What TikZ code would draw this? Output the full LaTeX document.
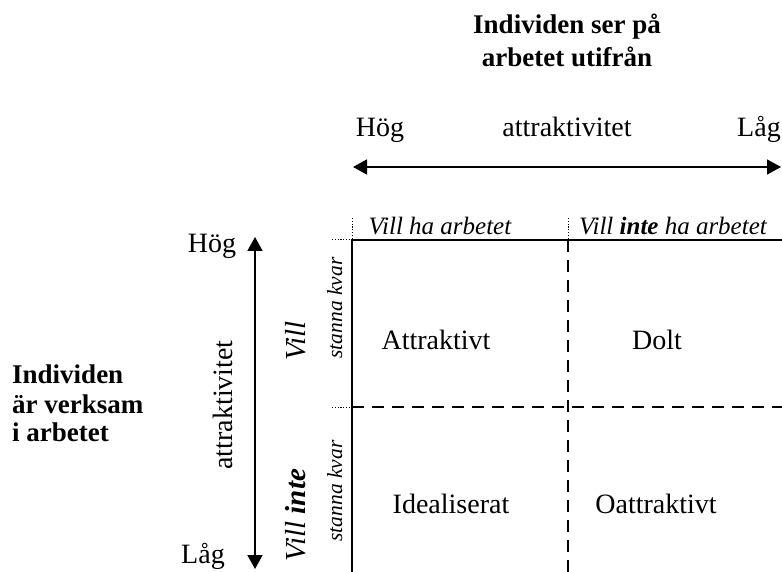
\documentclass[tikz,border=0pt]{standalone}
\usepackage{fontspec}
\setmainfont{Liberation Serif}
\usetikzlibrary{arrows.meta}
\begin{document}
\begin{tikzpicture}[x=1pt,y=-1pt,
  txt/.style={inner sep=0pt,font=\fontsize{28}{34}\selectfont},
  btxt/.style={inner sep=0pt,font=\fontsize{27}{33}\selectfont\bfseries},
  itxt/.style={inner sep=0pt,font=\fontsize{25}{30}\selectfont\itshape},
  vtxt/.style={inner sep=0pt,font=\fontsize{29}{34}\selectfont\itshape,rotate=90},
  stxt/.style={inner sep=0pt,font=\fontsize{21.5}{25}\selectfont\itshape,rotate=90},
  axis/.style={line width=1.8pt,{Triangle[length=14pt,width=15pt]}-{Triangle[length=14pt,width=15pt]}},
  solidline/.style={line width=1.8pt},
  dashline/.style={line width=1.8pt,dash pattern=on 12pt off 8pt},
  dotline/.style={line width=1pt,dash pattern=on 1.2pt off 1.6pt}
]
\useasboundingbox (0,0) rectangle (782,572);

% title
\node[btxt,anchor=base] (t1) at (567,34) {Individen ser på};
\node[btxt,anchor=base] (t2) at (567,67) {arbetet utifrån};

% horizontal axis
\node[txt,anchor=base] (hh) at (380,137) {Hög};
\node[txt,anchor=base] (ha) at (567,137) {attraktivitet};
\node[txt,anchor=base] (hl) at (759,137) {Låg};
\coordinate (hA) at (353,167);
\coordinate (hB) at (781,167);
\draw[axis] (hA) -- (hB);

% vertical axis
\node[txt,anchor=base] (vh) at (212,253) {Hög};
\node[txt,anchor=base] (vl) at (203,563) {Låg};
\node[txt,anchor=base,rotate=90] (va) at (232,405) {attraktivitet};
\coordinate (vA) at (255,237);
\coordinate (vB) at (255,569);
\draw[axis] (vA) -- (vB);

% left label
\node[btxt,anchor=base west] (l1) at (12,383) {Individen};
\node[btxt,anchor=base west] (l2) at (12,413) {är verksam};
\node[btxt,anchor=base west] (l3) at (12,441) {i arbetet};

% grid
\coordinate (TL) at (352,240);
\coordinate (TR) at (782,240);
\coordinate (BL) at (352,572);
\coordinate (TM) at (568,240);
\coordinate (BM) at (568,572);
\coordinate (ML) at (352,407);
\coordinate (MR) at (782,407);
\draw[solidline] (TR) -- (TL) -- (BL);
\draw[dashline] (TM) -- (BM);
\draw[dashline] (ML) -- (MR);

% dotted ticks
\coordinate (d1) at (352,218);
\coordinate (d2) at (568,218);
\coordinate (d3) at (332,240);
\coordinate (d4) at (332,407);
\draw[dotline] (d1) -- (TL);
\draw[dotline] (d2) -- (TM);
\draw[dotline] (d3) -- (TL);
\draw[dotline] (d4) -- (ML);

% column labels
\node[itxt,anchor=base] (c1) at (440,235) {Vill ha arbetet};
\node[itxt,anchor=base] (c2) at (673,235) {Vill \textbf{inte} ha arbetet};

% row labels
\node[vtxt,anchor=base] (r1) at (305,341) {Vill};
\node[stxt,anchor=base] (r1s) at (342,308) {stanna kvar};
\node[vtxt,anchor=base] (r2) at (305,515) {Vill \textbf{inte}};
\node[stxt,anchor=base] (r2s) at (342,491) {stanna kvar};

% cells
\node[txt,anchor=base] (q1) at (436,349) {Attraktivt};
\node[txt,anchor=base] (q2) at (657,349) {Dolt};
\node[txt,anchor=base] (q3) at (451,513) {Idealiserat};
\node[txt,anchor=base] (q4) at (656,513) {Oattraktivt};
\end{tikzpicture}
\end{document}
